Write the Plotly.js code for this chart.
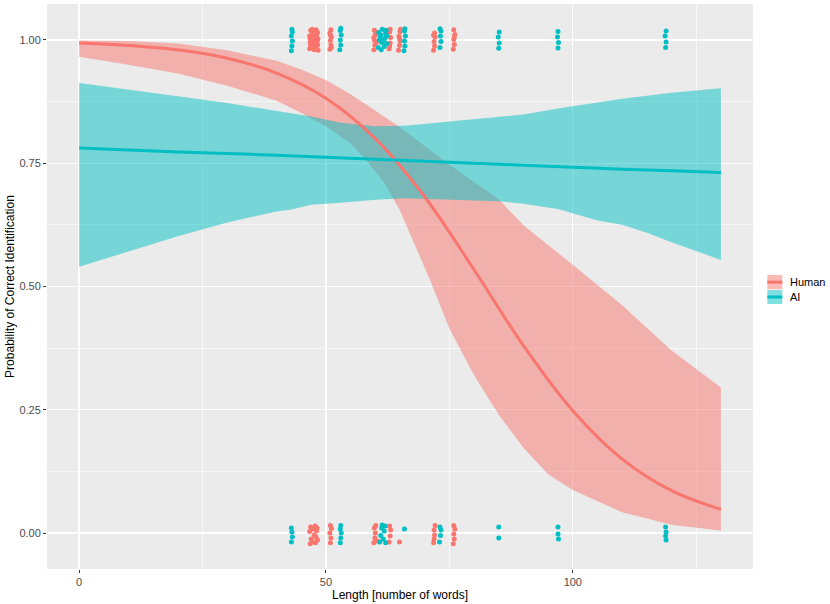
<!DOCTYPE html>
<html>
<head>
<meta charset="utf-8">
<script src="https://cdn.plot.ly/plotly-3.0.1.min.js"></script>
<style>
  html, body { margin: 0; padding: 0; background: #fff; }
  #chart { width: 830px; height: 604px; }
</style>
</head>
<body>
<div id="chart"></div>
<script>
// fitted curves
const fitX = [0, 10, 20, 30, 40, 50, 60, 70, 80, 90, 100, 110, 120, 130];
const humanFit = [0.994, 0.989, 0.980, 0.963, 0.933, 0.882, 0.800, 0.682, 0.534, 0.380, 0.248, 0.150, 0.086, 0.048];
const aiFit = [0.781, 0.777, 0.773, 0.770, 0.766, 0.762, 0.758, 0.754, 0.750, 0.746, 0.742, 0.738, 0.735, 0.731];

// confidence bands
const humanBandX = [0, 10, 20, 30, 40, 45, 50, 55, 58, 62, 65, 68, 71, 75, 80, 85, 90, 95, 100, 110, 120, 130];
const humanUpper = [0.999, 0.998, 0.993, 0.979, 0.958, 0.940, 0.919, 0.890, 0.870, 0.844, 0.823, 0.800, 0.777, 0.747, 0.712, 0.677, 0.624, 0.584, 0.544, 0.462, 0.370, 0.295];
const humanLower = [0.966, 0.950, 0.932, 0.907, 0.877, 0.852, 0.825, 0.790, 0.758, 0.708, 0.654, 0.585, 0.515, 0.415, 0.320, 0.240, 0.173, 0.119, 0.087, 0.042, 0.017, 0.005];

const aiBandX = [0, 10, 20, 30, 40, 43, 47, 53, 60, 66, 73, 80, 85, 90, 97, 105, 110, 115, 120, 130];
const aiUpper = [0.913, 0.900, 0.886, 0.872, 0.856, 0.852, 0.845, 0.832, 0.825, 0.826, 0.833, 0.839, 0.844, 0.849, 0.861, 0.874, 0.881, 0.887, 0.893, 0.902];
const aiLower = [0.540, 0.571, 0.602, 0.630, 0.652, 0.656, 0.666, 0.670, 0.676, 0.679, 0.677, 0.675, 0.673, 0.668, 0.657, 0.634, 0.625, 0.609, 0.590, 0.554];

// jittered observations (correct = ~1, incorrect = ~0)
const humanX = [
  46.7, 46.8, 46.7, 46.9, 47.2, 47.1, 47.3, 47.6, 47.5, 47.7, 47.6, 48.0, 47.9, 48.1, 48.0, 48.3, 48.4, 48.3, 47.2, 48.4,
  46.9, 47.4, 47.8, 48.2, 46.8, 47.3, 47.7, 48.1,
  50.8, 51.0, 50.9, 51.1, 50.8, 51.0, 51.1, 50.9,
  59.7, 59.9, 59.8, 60.0, 59.8, 60.2, 60.1, 59.7,
  62.8, 63.0, 63.1, 62.9, 63.0, 62.9,
  64.7, 64.9, 65.0, 64.8, 65.0, 65.1, 64.9,
  71.8, 72.0, 71.9, 72.1, 72.0, 71.8,
  75.8, 76.0, 75.9, 76.1, 75.9, 76.0,
  46.8, 47.0, 46.7, 46.9, 47.4, 47.6, 47.3, 47.9, 48.0, 48.1, 47.8, 48.3, 48.2,
  50.9, 51.0, 50.8, 51.1, 50.9,
  59.7, 59.9, 60.0, 59.8, 60.1, 60.3,
  62.8, 63.0, 63.1, 62.9,
  64.9,
  71.8, 72.0, 71.9, 72.1, 71.9,
  75.8, 76.0, 75.9, 76.1, 75.9
];
const humanY = [
  0.982, 0.995, 1.008, 1.019, 0.986, 1.000, 1.013, 0.980, 0.992, 1.004, 1.018, 0.984, 0.997, 1.010, 1.021, 0.990, 1.002, 1.015, 1.022, 0.979,
  0.989, 1.006, 1.011, 0.996, 1.002, 0.993, 0.987, 1.004,
  0.981, 0.990, 0.999, 1.006, 1.014, 1.021, 0.985, 1.010,
  0.980, 0.990, 1.000, 1.010, 1.020, 0.995, 1.015, 1.005,
  0.982, 0.994, 1.005, 1.016, 1.022, 0.988,
  0.979, 0.989, 0.998, 1.008, 1.017, 1.022, 1.003,
  0.979, 0.988, 0.997, 1.006, 1.014, 1.010,
  0.981, 0.991, 1.001, 1.011, 1.021, 1.006,
  -0.022, -0.012, 0.003, 0.012, -0.018, -0.004, 0.008, -0.020, -0.008, 0.004, 0.014, -0.014, 0.010,
  -0.020, -0.010, 0.000, 0.009, 0.015,
  -0.020, -0.010, 0.000, 0.010, 0.015, -0.016,
  -0.018, -0.006, 0.006, 0.014,
  -0.018,
  -0.020, -0.004, 0.006, 0.015, -0.012,
  -0.022, -0.012, -0.002, 0.008, 0.015
];

const aiX = [
  43.0, 43.1, 43.2, 43.0, 43.2, 43.1,
  52.8, 53.0, 52.9, 53.1, 52.9, 53.0,
  60.6, 60.8, 60.7, 61.2, 61.3, 61.1, 61.4, 61.8, 61.9, 62.0, 62.3, 62.4, 62.2, 61.0, 61.6, 62.1,
  65.8, 66.0, 65.9, 66.1, 65.9, 66.0,
  73.1, 73.3, 73.2, 73.3, 73.1,
  85.0, 85.1, 84.9, 85.1,
  97.0, 97.1, 96.9, 97.0,
  118.8, 118.9, 118.7, 118.9,
  43.0, 43.2, 43.1, 43.0,
  52.9, 53.0, 53.1, 52.9, 53.0,
  60.9, 61.1, 61.3, 61.6, 61.8, 62.0, 62.1, 61.4,
  65.9,
  73.0, 73.2, 73.3, 73.1,
  85.0, 85.0,
  97.0, 97.0, 97.1,
  118.8, 118.9, 118.8, 118.9
];
const aiY = [
  0.978, 0.988, 0.998, 1.008, 1.016, 1.022,
  0.980, 0.990, 1.000, 1.010, 1.019, 1.024,
  0.985, 1.000, 1.015, 0.980, 0.995, 1.010, 1.022, 0.987, 1.003, 1.018, 0.993, 1.008, 1.020, 1.006, 0.998, 1.012,
  0.978, 0.988, 0.998, 1.008, 1.018, 1.023,
  0.985, 0.997, 1.008, 1.018, 1.023,
  0.983, 0.994, 1.006, 1.016,
  0.984, 0.995, 1.006, 1.017,
  0.985, 0.996, 1.008, 1.018,
  -0.018, -0.008, 0.002, 0.010,
  -0.020, -0.010, 0.000, 0.008, 0.015,
  -0.018, -0.005, 0.010, -0.012, 0.004, 0.014, -0.020, 0.016,
  0.008,
  -0.018, -0.005, 0.006, 0.012,
  0.012, -0.010,
  0.012, -0.002, -0.012,
  0.012, 0.002, -0.006, -0.014
];

const RED = '#F8766D';
const TEAL = '#00BFC4';
const chartEl = document.getElementById('chart');

function band(xs, lo, hi, color) {
  return [
    { x: xs, y: lo, mode: 'lines', line: { width: 0, color: color }, showlegend: false, hoverinfo: 'skip' },
    { x: xs, y: hi, mode: 'lines', line: { width: 0, color: color }, fill: 'tonexty',
      fillcolor: color === RED ? 'rgba(248,118,109,0.5)' : 'rgba(0,191,196,0.5)', showlegend: false, hoverinfo: 'skip' }
  ];
}

const traces = [
  ...band(humanBandX, humanLower, humanUpper, RED),
  ...band(aiBandX, aiLower, aiUpper, TEAL),
  { x: fitX, y: humanFit, mode: 'lines', line: { color: RED, width: 3, shape: 'spline' }, showlegend: false },
  { x: fitX, y: aiFit, mode: 'lines', line: { color: TEAL, width: 3, shape: 'spline' }, showlegend: false },
  { x: humanX, y: humanY, mode: 'markers', marker: { color: RED, size: 5 }, showlegend: false },
  { x: aiX, y: aiY, mode: 'markers', marker: { color: TEAL, size: 5 }, showlegend: false }
];

// hand-drawn legend in ggplot style
const legendItems = [
  { name: 'Human', color: RED, fill: 'rgba(248,118,109,0.5)', y0: 0.4950, y1: 0.5204 },
  { name: 'AI', color: TEAL, fill: 'rgba(0,191,196,0.5)', y0: 0.4690, y1: 0.4938 }
];
const shapes = [];
const annotations = [];
legendItems.forEach((it) => {
  const mid = (it.y0 + it.y1) / 2;
  shapes.push({ type: 'rect', xref: 'paper', yref: 'paper', x0: 1.0203, x1: 1.0415, y0: it.y0, y1: it.y1,
    fillcolor: it.fill, line: { width: 0 } });
  shapes.push({ type: 'line', xref: 'paper', yref: 'paper', x0: 1.0203, x1: 1.0415, y0: mid, y1: mid,
    line: { color: it.color, width: 3 } });
  annotations.push({ xref: 'paper', yref: 'paper', x: 1.0492, y: mid, xanchor: 'left', yanchor: 'middle',
    text: it.name, showarrow: false, font: { size: 11, color: '#000' } });
});

const axisCommon = {
  showline: false,
  zeroline: false,
  gridcolor: '#FFFFFF',
  gridwidth: 1.3,
  ticks: 'outside',
  ticklen: 3,
  tickwidth: 1,
  tickcolor: '#333333',
  tickfont: { size: 11, color: '#4D4D4D' }
};

Plotly.newPlot(chartEl, traces, {
  width: 830,
  height: 604,
  margin: { l: 47, r: 77, t: 4, b: 35 },
  paper_bgcolor: '#FFFFFF',
  plot_bgcolor: '#EBEBEB',
  font: { family: 'Liberation Sans, Arial, sans-serif', color: '#000' },
  showlegend: false,
  xaxis: Object.assign({}, axisCommon, {
    range: [-6.5, 136.5],
    tickvals: [0, 50, 100],
    ticktext: ['0', '50', '100'],
    minor: { tickvals: [25, 75, 125], showgrid: true, gridcolor: '#FFFFFF', gridwidth: 0.6, ticks: '' },
    title: { text: 'Length [number of words]', font: { size: 12 }, standoff: 2 }
  }),
  yaxis: Object.assign({}, axisCommon, {
    range: [-0.073, 1.073],
    tickvals: [0, 0.25, 0.5, 0.75, 1],
    ticktext: ['0.00', '0.25', '0.50', '0.75', '1.00'],
    minor: { tickvals: [0.125, 0.375, 0.625, 0.875], showgrid: true, gridcolor: '#FFFFFF', gridwidth: 0.6, ticks: '' },
    title: { text: 'Probability of Correct Identification', font: { size: 12 }, standoff: 2 }
  }),
  shapes: shapes,
  annotations: annotations
}, { displayModeBar: false, staticPlot: true });
</script>
</body>
</html>
